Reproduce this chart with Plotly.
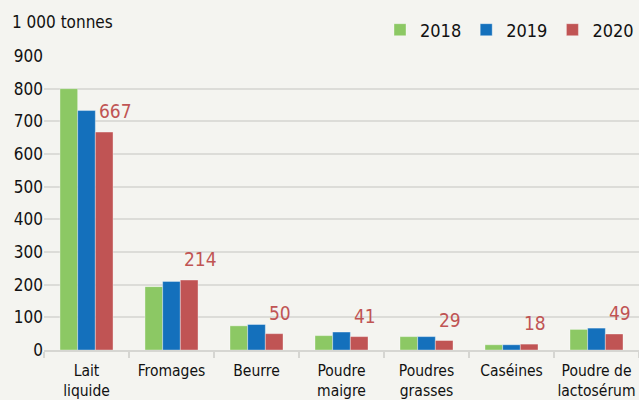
import plotly.graph_objects as go

categories = ["Lait<br>liquide", "Fromages", "Beurre", "Poudre<br>maigre",
              "Poudres<br>grasses", "Caséines", "Poudre de<br>lactosérum"]
years = ["2018", "2019", "2020"]
v2018 = [800, 194, 74, 44, 41, 16, 63]
v2019 = [733, 210, 78, 55, 41, 16, 67]
v2020 = [667, 214, 50, 41, 29, 18, 49]
y_ticks = [0, 100, 200, 300, 400, 500, 600, 700, 800, 900]

colors = ["#8cc864", "#1470bc", "#c05454"]
FONT = ("Noto Sans ExtraCondensed, Noto Sans Condensed, Liberation Sans Narrow, "
        "DejaVu Sans Condensed, sans-serif")

fig = go.Figure()
for name, vals, col in zip(years, [v2018, v2019, v2020], colors):
    fig.add_trace(go.Bar(
        x=categories, y=vals, name=name,
        marker=dict(color=col, line=dict(color="rgba(255,255,255,0.6)", width=0.6)),
    ))

# value labels for the latest year, starting at the left edge of the 2020 bar
for cat, val in zip(categories, v2020):
    fig.add_annotation(
        x=cat, y=val, xref="x", yref="y", text=str(val), showarrow=False,
        xanchor="left", yanchor="bottom", xshift=10, yshift=8,
        font=dict(family=FONT, size=19, color="#c05454"),
    )

fig.update_layout(
    width=639, height=400,
    margin=dict(l=44, r=0, t=56, b=50, autoexpand=False),
    paper_bgcolor="#f4f4f0", plot_bgcolor="#f4f4f0",
    barmode="group", bargap=0.376, bargroupgap=0,
    font=dict(family=FONT, size=18, color="#111111"),
    title=dict(text="1 000 tonnes", x=12 / 639, xref="container", xanchor="left",
               y=1 - 22 / 400, yref="container", yanchor="middle",
               font=dict(family=FONT, size=17, color="#111111")),
    legend=dict(orientation="h", x=1.0, xanchor="right", y=1 - 30 / 400, yref="container",
                yanchor="middle", font=dict(family=FONT, size=18, color="#111111"),
                bgcolor="rgba(0,0,0,0)", itemclick=False, traceorder="normal"),
    xaxis=dict(showgrid=False, showline=True, linecolor="#d6d6d2", linewidth=2,
               ticks="outside", tickson="boundaries", ticklen=6, tickcolor="#d6d6d2",
               tickwidth=2, tickangle=0, automargin=False, ticklabelstandoff=5,
               tickfont=dict(family=FONT, size=15.5, color="#111111"),
               fixedrange=True),
    yaxis=dict(range=[0, 900], tickvals=y_ticks, showgrid=True, gridcolor="#dcdcd8",
               gridwidth=2, zeroline=False, showline=False, ticks="", automargin=False,
               tickfont=dict(family=FONT, size=17, color="#111111"), fixedrange=True),
)

fig.write_html("out.html")
